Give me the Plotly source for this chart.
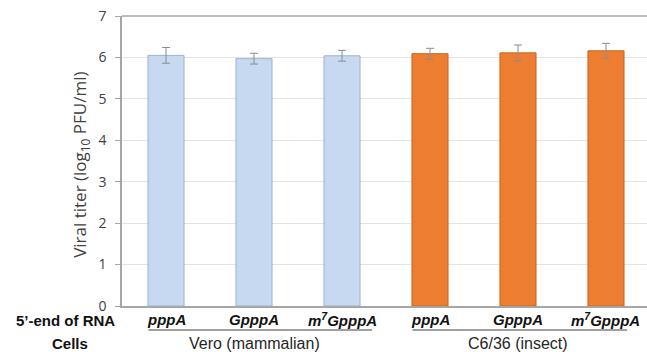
import plotly.graph_objects as go

# Viral titers by 5'-end cap structure and host cell line
rna_ends = ["pppA", "GpppA", "m<sup>7</sup>GpppA", "pppA", "GpppA", "m<sup>7</sup>GpppA"]
cell_lines = ["Vero (mammalian)", "C6/36 (insect)"]
titers = [6.05, 5.97, 6.04, 6.09, 6.11, 6.16]
errors = [0.19, 0.13, 0.13, 0.13, 0.19, 0.18]
y_ticks = [0, 1, 2, 3, 4, 5, 6, 7]

FONT = "Liberation Sans, Arial, sans-serif"
AXIS_FONT = "Open Sans, Liberation Sans, sans-serif"
positions = list(range(len(titers)))
fill_colors = ["#c6d9f0"] * 3 + ["#ed7d31"] * 3
edge_colors = ["#9fb3cc"] * 3 + ["#c9651f"] * 3

fig = go.Figure()
fig.add_trace(go.Bar(
    x=positions,
    y=titers,
    width=0.41,
    marker=dict(color=fill_colors, line=dict(color=edge_colors, width=1)),
    error_y=dict(type="data", array=errors, visible=True,
                 color="#8c8c8c", thickness=1, width=4),
    showlegend=False,
))

annotations = []
# 5'-end labels under each bar
for pos, name in zip(positions, rna_ends):
    annotations.append(dict(
        x=pos, y=-0.045, xref="x", yref="paper", yanchor="middle",
        text=f"<b><i>{name}</i></b>", showarrow=False,
        font=dict(family=FONT, size=15, color="#111111"),
    ))
# Cell-line group labels
for center, name in zip([1.0, 4.0], cell_lines):
    annotations.append(dict(
        x=center, y=-0.13, xref="x", yref="paper", yanchor="middle",
        text=name, showarrow=False,
        font=dict(family=FONT, size=16, color="#262626"),
    ))
# Row headers
annotations.append(dict(
    x=-0.0095, y=-0.049, xref="paper", yref="paper", xanchor="right", yanchor="middle",
    text="<b>5’-end of RNA</b>", showarrow=False,
    font=dict(family=FONT, size=15, color="#111111"),
))
annotations.append(dict(
    x=-0.1, y=-0.13, xref="paper", yref="paper", xanchor="center", yanchor="middle",
    text="<b>Cells</b>", showarrow=False,
    font=dict(family=FONT, size=15, color="#111111"),
))
# Y-axis title
annotations.append(dict(
    x=-0.078, y=0.487, xref="paper", yref="paper", xanchor="center", yanchor="middle",
    text="Viral titer (log<sub>10</sub> PFU/ml)", textangle=-90, showarrow=False,
    font=dict(family=AXIS_FONT, size=17, color="#404040"),
))

shapes = [
    # group underlines
    dict(type="line", xref="x", yref="paper", x0=-0.2, x1=2.34, y0=-0.083, y1=-0.083,
         line=dict(color="#7f7f7f", width=1.5)),
    dict(type="line", xref="x", yref="paper", x0=2.8, x1=5.24, y0=-0.083, y1=-0.083,
         line=dict(color="#7f7f7f", width=1.5)),
    # top frame
    dict(type="line", xref="paper", yref="paper", x0=0, x1=1, y0=1, y1=1,
         line=dict(color="#a6a6a6", width=1.5)),
]

fig.update_layout(
    width=647, height=352,
    margin=dict(l=122, r=0, t=16, b=45.5),
    paper_bgcolor="white", plot_bgcolor="white",
    font=dict(family=FONT, color="#404040"),
    annotations=annotations,
    shapes=shapes,
    bargap=0.5,
)
fig.update_xaxes(
    range=[-0.5, 5.466], showticklabels=False, ticks="",
    showline=True, linecolor="#a6a6a6", linewidth=1.5,
    showgrid=False, zeroline=False,
)
fig.update_yaxes(
    range=[0, 7], tickvals=y_ticks,
    tickfont=dict(family=AXIS_FONT, size=14, color="#404040"),
    ticks="outside", ticklen=5, tickcolor="#a6a6a6", ticklabelstandoff=6,
    showline=True, linecolor="#a6a6a6", linewidth=1.5,
    showgrid=True, gridcolor="#e3e3e3", gridwidth=1,
    zeroline=False,
)

fig.write_html("out.html")
